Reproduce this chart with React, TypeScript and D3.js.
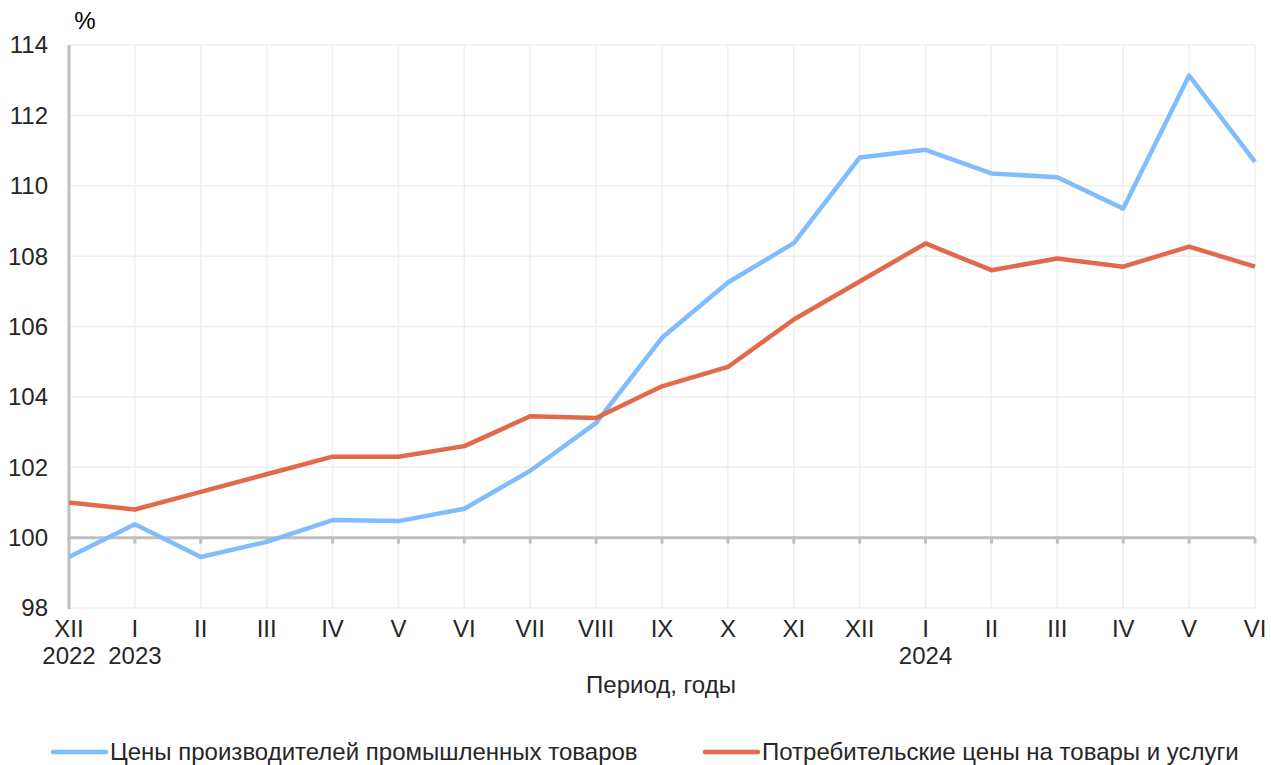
import { useEffect, useRef } from 'react';
import * as d3 from "d3";

const months = ["XII", "I", "II", "III", "IV", "V", "VI", "VII", "VIII", "IX", "X", "XI", "XII", "I", "II", "III", "IV", "V", "VI"];
const years = ["2022", "2023", "", "", "", "", "", "", "", "", "", "", "", "2024", "", "", "", "", ""];
const producerPrices = [99.45, 100.38, 99.45, 99.88, 100.5, 100.47, 100.82, 101.9, 103.26, 105.68, 107.25, 108.37, 110.8, 111.02, 110.35, 110.24, 109.35, 113.13, 110.68];
const consumerPrices = [101.0, 100.8, 101.3, 101.8, 102.3, 102.3, 102.6, 103.45, 103.4, 104.3, 104.85, 106.2, 107.28, 108.36, 107.6, 107.93, 107.7, 108.27, 107.7];
const yTicks = [98, 100, 102, 104, 106, 108, 110, 112, 114];

const seriesNames = ["Цены производителей промышленных товаров", "Потребительские цены на товары и услуги"];
const colors = ["#80bdff", "#e2694a"];

export default function App() {
  const chartRef = useRef<SVGSVGElement>(null);

  useEffect(() => {
    if (!chartRef.current) return;
    const svg = d3.select(chartRef.current);
    svg.selectAll("*").remove();

    const width = 1271;
    const height = 765;
    const marginLeft = 69;
    const marginRight = 16;
    const marginTop = 45;
    const plotBottom = 608;
    const font = "'Liberation Sans', Arial, sans-serif";
    const fs = "24px";

    const idx = months.map((_, i) => i);
    const x = d3.scalePoint<number>()
      .domain(idx)
      .range([marginLeft, width - marginRight]);

    const y = d3.scaleLinear()
      .domain([98, 114])
      .range([plotBottom, marginTop]);

    svg.attr("width", width).attr("height", height)
      .style("font-family", font)
      .style("display", "block");

    // grid
    const grid = svg.append("g").attr("stroke", "#efefef").attr("stroke-width", 1.5);
    grid.selectAll("line.h")
      .data(yTicks)
      .join("line")
      .attr("class", "h")
      .attr("x1", marginLeft)
      .attr("x2", width - marginRight)
      .attr("y1", d => y(d))
      .attr("y2", d => y(d));
    grid.selectAll("line.v")
      .data(idx.slice(1))
      .join("line")
      .attr("class", "v")
      .attr("x1", d => x(d)!)
      .attr("x2", d => x(d)!)
      .attr("y1", marginTop)
      .attr("y2", plotBottom);

    // axis line at 100 with ticks
    const axis = svg.append("g").attr("stroke", "#bfbfbf").attr("stroke-width", 3);
    axis.append("line")
      .attr("x1", marginLeft)
      .attr("x2", width - marginRight)
      .attr("y1", y(100))
      .attr("y2", y(100));
    axis.selectAll("line.tick")
      .data(idx)
      .join("line")
      .attr("class", "tick")
      .attr("x1", d => x(d)!)
      .attr("x2", d => x(d)!)
      .attr("y1", y(100))
      .attr("y2", y(100) + 6);
    axis.append("line")
      .attr("x1", marginLeft)
      .attr("x2", marginLeft)
      .attr("y1", marginTop)
      .attr("y2", plotBottom + 1);

    // y labels
    svg.append("g")
      .selectAll("text")
      .data(yTicks)
      .join("text")
      .attr("x", 48)
      .attr("y", d => y(d))
      .attr("dy", "0.35em")
      .attr("text-anchor", "end")
      .attr("fill", "#262626")
      .style("font-size", fs)
      .text(d => d);

    svg.append("text")
      .attr("x", 85)
      .attr("y", 29)
      .attr("text-anchor", "middle")
      .attr("fill", "#000")
      .style("font-size", fs)
      .text("%");

    // x labels
    const xl = svg.append("g").attr("fill", "#262626").style("font-size", fs).attr("text-anchor", "middle");
    xl.selectAll("text.m")
      .data(idx)
      .join("text")
      .attr("class", "m")
      .attr("x", d => x(d)!)
      .attr("y", 637)
      .text(d => months[d]);
    xl.selectAll("text.y")
      .data(idx.filter(i => years[i]))
      .join("text")
      .attr("class", "y")
      .attr("x", d => x(d)!)
      .attr("y", 664)
      .text(d => years[d]);

    svg.append("text")
      .attr("x", 661)
      .attr("y", 693)
      .attr("text-anchor", "middle")
      .attr("fill", "#262626")
      .style("font-size", fs)
      .text("Период, годы");

    // lines
    const line = d3.line<number>()
      .x((_, i) => x(i)!)
      .y(d => y(d));

    [producerPrices, consumerPrices].forEach((s, k) => {
      svg.append("path")
        .datum(s)
        .attr("fill", "none")
        .attr("stroke", colors[k])
        .attr("stroke-width", 4.5)
        .attr("stroke-linejoin", "round")
        .attr("d", line);
    });

    // legend
    const legendX = [53, 705];
    const legend = svg.append("g");
    seriesNames.forEach((name, k) => {
      legend.append("line")
        .attr("x1", legendX[k])
        .attr("x2", legendX[k] + 53)
        .attr("y1", 752)
        .attr("y2", 752)
        .attr("stroke", colors[k])
        .attr("stroke-width", 4.5)
        .attr("stroke-linecap", "round");
      legend.append("text")
        .attr("x", legendX[k] + 57)
        .attr("y", 752)
        .attr("dy", "0.35em")
        .attr("fill", "#262626")
        .style("font-size", fs)
        .text(name);
    });
  }, []);

  return (
    <div style={{ position: "absolute", left: 0, top: 0 }}>
      <svg ref={chartRef}></svg>
    </div>
  );
}
